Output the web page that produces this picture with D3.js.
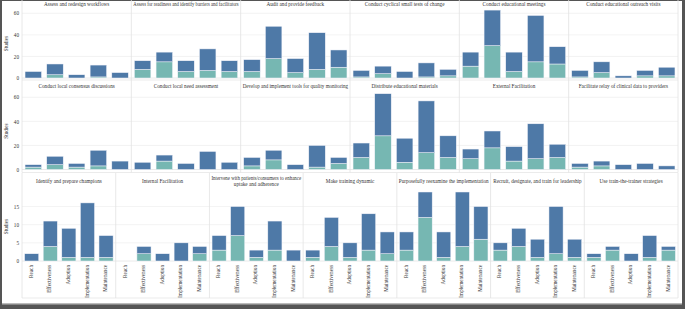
<!DOCTYPE html>
<html><head><meta charset="utf-8">
<script src="https://cdn.jsdelivr.net/npm/d3@7"></script>
<style>html,body{margin:0;padding:0;background:#fff}svg{display:block}text{font-family:"Liberation Serif","DejaVu Serif",serif;fill:#333}</style>
</head><body><svg id="chart" width="685" height="309"></svg>
<script>
const strategies = [
  "Assess and redesign workflows",
  "Assess for readiness and identify barriers and facilitators",
  "Audit and provide feedback",
  "Conduct cyclical small tests of change",
  "Conduct educational meetings",
  "Conduct educational outreach visits",
  "Conduct local consensus discussions",
  "Conduct local need assessment",
  "Develop and implement tools for quality monitoring",
  "Distribute educational materials",
  "External Facilitation",
  "Facilitate relay of clinical data to providers",
  "Identify and prepare champions",
  "Internal Facilitation",
  "Intervene with patients/consumers to enhance uptake and adherence",
  "Make training dynamic",
  "Purposefully reexamine the implementation",
  "Recruit, designate, and train for leadership",
  "Use train-the-trainer strategies"
];
const measures = ["Reach","Effectiveness","Adoption","Implementation","Maintenance"];
// total studies per strategy x RE-AIM dimension
const totalStudies = [
  [6,13,3,12,5],
  [16,24,16,27,16],
  [17,48,18,42,26],
  [7,11,6,14,8],
  [24,63,24,58,29],
  [7,15,2,7,10],
  [4,11,5,16,7],
  [6,12,5,15,6],
  [10,16,4,20,10],
  [22,63,26,57,28],
  [17,32,19,38,21],
  [5,7,4,5,3],
  [2,11,9,16,7],
  [0,4,2,5,4],
  [7,15,3,11,3],
  [3,12,5,13,8],
  [8,19,8,19,15],
  [5,9,6,15,6],
  [2,4,2,7,4]
];
// lower (teal) segment
const tealStudies = [
  [0,3,0,1,0],
  [8,15,6,7,6],
  [6,18,5,8,10],
  [1,4,0,1,2],
  [11,30,6,15,13],
  [1,5,0,2,2],
  [2,4,2,3,0],
  [0,7,0,0,0],
  [3,8,0,2,5],
  [10,28,6,14,10],
  [9,18,7,9,10],
  [2,3,0,0,0],
  [0,4,1,1,1],
  [0,2,0,0,2],
  [3,7,1,3,0],
  [1,4,1,3,2],
  [3,12,1,4,6],
  [3,4,1,2,1],
  [1,3,0,1,3]
];
const yTicksTop = [0,20,40,60];
const yTicksBottom = [0,5,10,15];

const svg = d3.select("#chart");
const W = 685, H = 309;
const BLUE = "#4e79a7", TEAL = "#76b7b2";
const FS = 5.2;
svg.append("rect").attr("width",W).attr("height",H).attr("fill","#555");
svg.append("rect").attr("x",2).attr("y",1).attr("width",680).attr("height",303).attr("fill","#fff");
svg.append("rect").attr("x",2).attr("y",303).attr("width",680).attr("height",1.5).attr("fill","#bbb");

const X0 = 22, X1 = 678;
const rows = [
  {start:0, n:6, top:0, titleY:4.6, plotTop:9, base:78, bottom:80, max:64, ticks:yTicksTop, labels:false},
  {start:6, n:6, top:80, titleY:86, plotTop:92.5, base:169.5, bottom:172.5, max:64, ticks:yTicksTop, labels:false},
  {start:12, n:7, top:173, titleY:181, plotTop:192, base:261, bottom:298, max:19, ticks:yTicksBottom, labels:true}
];

rows.forEach(r => {
  const g = svg.append("g");
  const y = d3.scaleLinear().domain([0, r.max]).range([r.base, r.plotTop]);
  g.selectAll("line.grid").data(r.ticks).join("line")
    .attr("x1",X0).attr("x2",X1).attr("y1",d=>y(d)).attr("y2",d=>y(d))
    .attr("stroke", d=> d===0 ? "#e4e4e4" : "#f0f0f0").attr("stroke-width",0.8);
  g.append("line").attr("x1",X0).attr("x2",X1).attr("y1",r.bottom).attr("y2",r.bottom)
    .attr("stroke","#e6e6e6").attr("stroke-width",0.8);
  const ax = g.append("g").attr("transform",`translate(${X0},0)`)
    .call(d3.axisLeft(y).tickValues(r.ticks).tickSize(0).tickPadding(3));
  ax.select(".domain").remove();
  ax.selectAll("text").attr("font-size",FS).attr("font-family","Liberation Serif, serif").attr("fill","#444");
  g.append("text").attr("transform",`translate(7,${(r.plotTop+r.base)/2}) rotate(-90)`)
    .attr("text-anchor","middle").attr("dominant-baseline","middle").attr("font-size",FS).text("Studies");

  const pw = (X1 - X0) / r.n;
  for (let i = 0; i < r.n; i++) {
    const si = r.start + i;
    const px = X0 + i * pw;
    const x = d3.scaleBand().domain(measures).range([px, px + pw]).paddingInner(0.24).paddingOuter(0.14);
    g.append("line").attr("x1",px).attr("x2",px).attr("y1",r.top).attr("y2",r.bottom)
      .attr("stroke","#e2e2e2").attr("stroke-width",0.8);
    if (i === r.n - 1) g.append("line").attr("x1",px+pw).attr("x2",px+pw).attr("y1",r.top).attr("y2",r.bottom)
      .attr("stroke","#e2e2e2").attr("stroke-width",0.8);
    const cx = px + pw/2;
    const avail = pw - 4;
    const t = g.append("text").attr("text-anchor","middle").attr("font-size",FS).attr("fill","#222")
      .attr("x",cx).attr("y",r.titleY + 1.8).text(strategies[si]);
    const len = t.node().getComputedTextLength();
    if (len > avail && len <= avail * 1.4) {
      t.attr("textLength", avail).attr("lengthAdjust","spacingAndGlyphs");
    } else if (len > avail) {
      const words = strategies[si].split(" ");
      t.text(null);
      const limit = avail * 1.15;
      let line = [], lines = [];
      const probe = g.append("text").attr("font-size",FS);
      words.forEach(w => {
        probe.text(line.concat([w]).join(" "));
        if (probe.node().getComputedTextLength() > limit && line.length) { lines.push(line.join(" ")); line = [w]; }
        else line.push(w);
      });
      lines.push(line.join(" "));
      lines.forEach((L, k) => {
        probe.text(L);
        const lw = probe.node().getComputedTextLength();
        const ts = t.append("tspan").attr("x",cx).attr("y", r.titleY + 1.8 + (k - (lines.length-1)/2) * 6).text(L);
        if (lw > avail) ts.attr("textLength", avail).attr("lengthAdjust","spacingAndGlyphs");
      });
      probe.remove();
    }
    const data = measures.map((m,j) => ({m, teal: tealStudies[si][j], blue: totalStudies[si][j] - tealStudies[si][j]}));
    const stack = d3.stack().keys(["teal","blue"])(data);
    const colors = {teal: TEAL, blue: BLUE};
    stack.forEach(layer => {
      g.append("g").selectAll("rect").data(layer.filter(d => d[1] - d[0] > 0)).join("rect")
        .attr("x", d => x(d.data.m)).attr("width", x.bandwidth())
        .attr("y", d => y(d[1])).attr("height", d => y(d[0]) - y(d[1]))
        .attr("fill", colors[layer.key]).attr("stroke","#f4f4fa").attr("stroke-width",0.5);
    });
    if (r.labels) {
      measures.forEach(m => {
        g.append("text")
          .attr("transform",`translate(${x(m)+x.bandwidth()/2},${r.base+4}) rotate(-90)`)
          .attr("text-anchor","end").attr("dominant-baseline","middle")
          .attr("font-size",FS).attr("fill","#333").text(m);
      });
    }
  }
});
</script></body></html>
